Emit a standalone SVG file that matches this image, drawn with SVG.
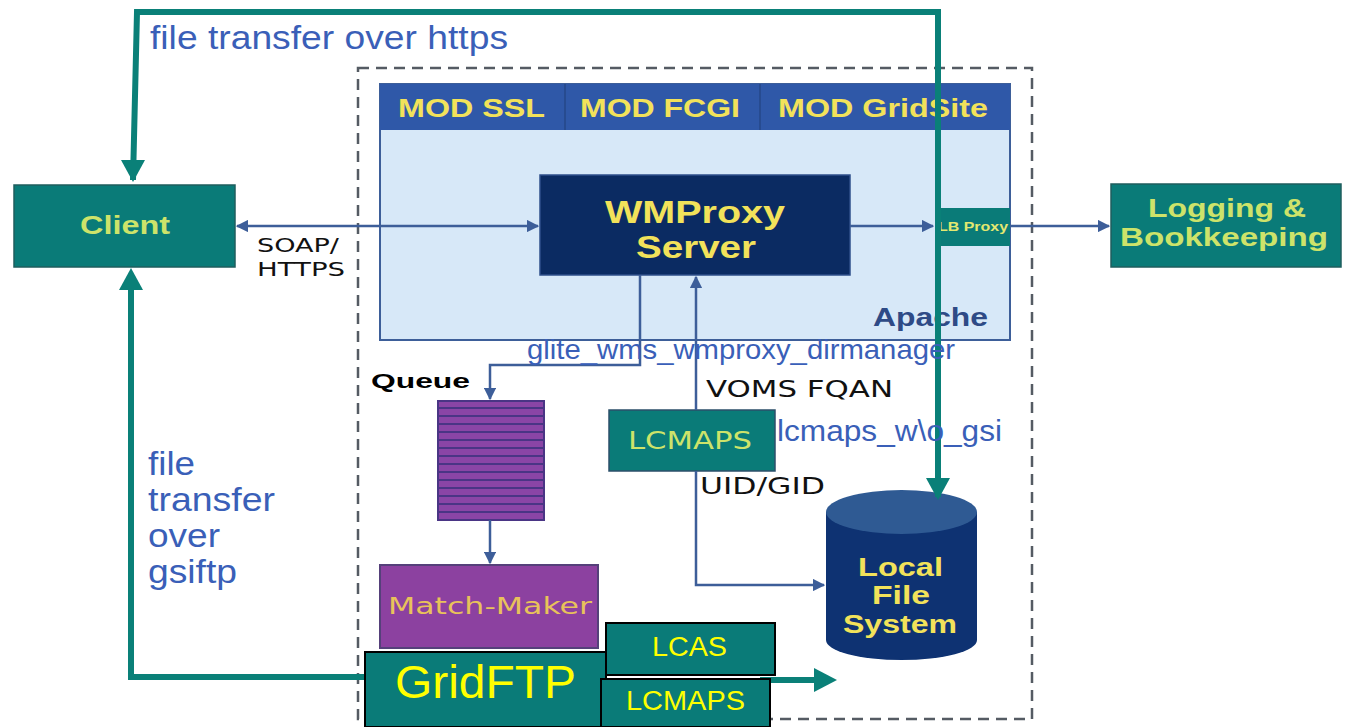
<svg xmlns="http://www.w3.org/2000/svg" width="1348" height="727" viewBox="0 0 1348 727">
  <style>
    .sans { font-family: "Liberation Sans", Arial, sans-serif; }
    .bold { font-weight: bold; }
    .ylw { fill: #f2e25a; }
    .lbl-blue { fill: #3a5fb8; font-family: "Liberation Sans", Arial, sans-serif; }
    .lbl-black { fill: #111; font-family: "DejaVu Sans", sans-serif; }
    .teal { fill: #0a7b78; }
    .thin { stroke: #3d5e99; stroke-width: 2.5; fill: none; }
    .thick { stroke: #0a8078; stroke-width: 6; fill: none; }
  </style>
  <defs>
    <marker id="ah-blue" viewBox="0 0 10 10" refX="9" refY="5" markerWidth="5" markerHeight="5" orient="auto-start-reverse" markerUnits="strokeWidth">
      <path d="M0,0 L10,5 L0,10 z" fill="#3d5e99"/>
    </marker>
    <pattern id="stripes" width="10" height="8" patternUnits="userSpaceOnUse" y="401">
      <rect width="10" height="8" fill="#8a45a6"/>
      <rect y="6" width="10" height="2" fill="#4a3585"/>
    </pattern>
  </defs>

  <rect width="1348" height="727" fill="#ffffff"/>

  <!-- server boundary -->
  <rect id="boundary" x="358" y="68" width="674" height="651" fill="none" stroke="#555b63" stroke-width="2.5" stroke-dasharray="11 7"/>

  <!-- Apache container -->
  <g id="apache">
    <rect x="380" y="84" width="630" height="256" fill="#d7e8f8" stroke="#3d5e99" stroke-width="2"/>
    <rect x="380" y="84" width="630" height="46" fill="#2f58a8"/>
    <line x1="565" y1="84" x2="565" y2="130" stroke="#274b90" stroke-width="2"/>
    <line x1="760" y1="84" x2="760" y2="130" stroke="#274b90" stroke-width="2"/>
    <text class="sans bold ylw" x="398" y="117" font-size="25" textLength="147" lengthAdjust="spacingAndGlyphs">MOD SSL</text>
    <text class="sans bold ylw" x="580" y="117" font-size="25" textLength="160" lengthAdjust="spacingAndGlyphs">MOD FCGI</text>
    <text class="sans bold ylw" x="778" y="117" font-size="25" textLength="210" lengthAdjust="spacingAndGlyphs">MOD GridSite</text>
    <text class="sans bold" x="873" y="326" font-size="26" fill="#2e4a86" textLength="115" lengthAdjust="spacingAndGlyphs">Apache</text>
  </g>

  <g id="wmproxy">
    <rect x="540" y="175" width="310" height="100" fill="#0b2b62" stroke="#2f4f8a" stroke-width="1.5"/>
    <text class="sans bold ylw" x="605" y="223" font-size="31" textLength="180" lengthAdjust="spacingAndGlyphs">WMProxy</text>
    <text class="sans bold ylw" x="636" y="258" font-size="31" textLength="120" lengthAdjust="spacingAndGlyphs">Server</text>
  </g>

  <g id="lbproxy">
    <rect x="936" y="208" width="74" height="38" class="teal"/>
    <text class="sans bold" x="938" y="231" font-size="12" fill="#e3e870" textLength="70" lengthAdjust="spacingAndGlyphs">LB Proxy</text>
  </g>

  <g id="client">
    <rect x="14" y="185" width="221" height="82" class="teal" stroke="#1f5e5e" stroke-width="1.5"/>
    <text class="sans bold" x="80" y="234" font-size="25" fill="#cde36a" textLength="90" lengthAdjust="spacingAndGlyphs">Client</text>
  </g>

  <g id="logging">
    <rect x="1111" y="184" width="230" height="83" class="teal" stroke="#1f5e5e" stroke-width="1.5"/>
    <text class="sans bold" x="1148" y="217" font-size="25" fill="#cde36a" textLength="158" lengthAdjust="spacingAndGlyphs">Logging &amp;</text>
    <text class="sans bold" x="1120" y="246" font-size="25" fill="#cde36a" textLength="208" lengthAdjust="spacingAndGlyphs">Bookkeeping</text>
  </g>

  <g id="queue">
    <rect x="438" y="401" width="106" height="119" fill="url(#stripes)" stroke="#4a3585" stroke-width="2"/>
    <text class="sans bold" x="371" y="388" font-size="21" fill="#000" textLength="99" lengthAdjust="spacingAndGlyphs">Queue</text>
  </g>

  <g id="matchmaker">
    <rect x="380" y="565" width="218" height="83" fill="#8c41a0" stroke="#55407a" stroke-width="2"/>
    <text x="388" y="614" font-size="23" fill="#e8c25a" font-family="DejaVu Sans, sans-serif" textLength="204" lengthAdjust="spacingAndGlyphs">Match-Maker</text>
  </g>

  <g id="lcmaps-wms">
    <rect x="609" y="410" width="166" height="61" class="teal" stroke="#2c4f6a" stroke-width="1.5"/>
    <text x="628" y="449" font-size="24" fill="#cde36a" font-family="DejaVu Sans, sans-serif" textLength="124" lengthAdjust="spacingAndGlyphs">LCMAPS</text>
  </g>

  <g id="localfs">
    <path d="M826,512 L826,640 A75.5,20 0 0 0 977,640 L977,512 z" fill="#0e3272"/>
    <ellipse cx="901.5" cy="512" rx="75.5" ry="22" fill="#2f5a93"/>
    <text class="sans bold ylw" x="858" y="576" font-size="26" textLength="85" lengthAdjust="spacingAndGlyphs">Local</text>
    <text class="sans bold ylw" x="872" y="604" font-size="26" textLength="58" lengthAdjust="spacingAndGlyphs">File</text>
    <text class="sans bold ylw" x="843" y="633" font-size="26" textLength="114" lengthAdjust="spacingAndGlyphs">System</text>
  </g>

  <!-- connectors -->
  <g id="connectors">
    <line class="thin" x1="237" y1="226" x2="538" y2="226" marker-start="url(#ah-blue)" marker-end="url(#ah-blue)"/>
    <line class="thin" x1="850" y1="226" x2="933" y2="226" marker-end="url(#ah-blue)"/>
    <line class="thin" x1="1010" y1="226" x2="1109" y2="226" marker-end="url(#ah-blue)"/>
    <polyline class="thin" points="640,275 640,365 490,365 490,399" marker-end="url(#ah-blue)"/>
    <line class="thin" x1="490" y1="520" x2="490" y2="563" marker-end="url(#ah-blue)"/>
    <line class="thin" x1="696" y1="410" x2="696" y2="277" marker-end="url(#ah-blue)"/>
    <polyline class="thin" points="696,471 696,585 824,585" marker-end="url(#ah-blue)"/>

    <polyline class="thick" points="133,180 137,12 938,12 938,497" stroke-linejoin="miter"/>
    <path d="M121,160 L145,160 L133,182 z" fill="#0a8078"/>
    <path d="M926,478 L950,478 L938,500 z" fill="#0a8078"/>
    <polyline class="thick" points="365,677 131,677 131,288"/>
    <path d="M119,290 L143,290 L131,268 z" fill="#0a8078"/>
    <line class="thick" x1="760" y1="680" x2="818" y2="680"/>
    <path d="M814,668 L814,692 L837,680 z" fill="#0a8078"/>
  </g>

  <!-- connector labels -->
  <text class="lbl-black" x="257" y="252" font-size="20" fill="#222" textLength="82" lengthAdjust="spacingAndGlyphs">SOAP/</text>
  <text class="lbl-black" x="257" y="276" font-size="20" fill="#222" textLength="88" lengthAdjust="spacingAndGlyphs">HTTPS</text>
  <text class="lbl-blue" x="150" y="49" font-size="34" textLength="358" lengthAdjust="spacingAndGlyphs">file transfer over https</text>
  <text class="lbl-blue" x="148" y="475" font-size="34" textLength="47" lengthAdjust="spacingAndGlyphs">file</text>
  <text class="lbl-blue" x="148" y="511" font-size="34" textLength="127" lengthAdjust="spacingAndGlyphs">transfer</text>
  <text class="lbl-blue" x="148" y="547" font-size="34" textLength="72" lengthAdjust="spacingAndGlyphs">over</text>
  <text class="lbl-blue" x="148" y="583" font-size="34" textLength="89" lengthAdjust="spacingAndGlyphs">gsiftp</text>
  <text class="lbl-blue" x="527" y="359" font-size="28" textLength="428" lengthAdjust="spacingAndGlyphs">glite_wms_wmproxy_dirmanager</text>
  <text class="lbl-black" x="706" y="397" font-size="23" textLength="187" lengthAdjust="spacingAndGlyphs">VOMS FQAN</text>
  <text class="lbl-blue" x="777" y="441" font-size="30" textLength="225" lengthAdjust="spacingAndGlyphs">lcmaps_w\o_gsi</text>
  <text class="lbl-black" x="700" y="494" font-size="23" textLength="125" lengthAdjust="spacingAndGlyphs">UID/GID</text>

  <g id="gridftp">
    <rect x="365" y="652" width="241" height="75" class="teal" stroke="#000" stroke-width="2"/>
    <text class="sans" x="395" y="698" font-size="46" fill="#ffff00" textLength="181" lengthAdjust="spacingAndGlyphs">GridFTP</text>
  </g>
  <g id="lcas">
    <rect x="606" y="623" width="169" height="52" class="teal" stroke="#000" stroke-width="2"/>
    <text class="sans" x="652" y="656" font-size="27" fill="#ffff00" textLength="75" lengthAdjust="spacingAndGlyphs">LCAS</text>
  </g>
  <g id="lcmaps-ftp">
    <rect x="601" y="679" width="169" height="48" class="teal" stroke="#000" stroke-width="2"/>
    <text class="sans" x="626" y="710" font-size="27" fill="#ffff00" textLength="119" lengthAdjust="spacingAndGlyphs">LCMAPS</text>
  </g>
</svg>
